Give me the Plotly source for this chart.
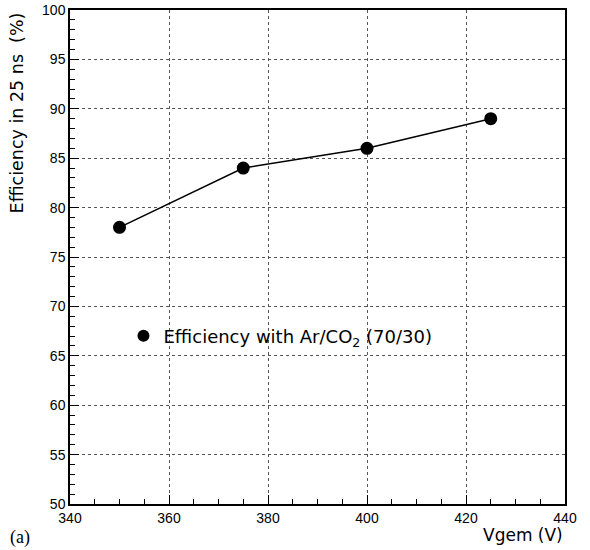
import plotly.graph_objects as go

vgem = [350, 375, 400, 425]
efficiency = [78, 84, 86, 89]
series_name = "Efficiency with Ar/CO<sub>2</sub> (70/30)"

font = "Liberation Sans"

fig = go.Figure()
fig.add_trace(go.Scatter(
    x=vgem, y=efficiency, mode="lines+markers",
    line=dict(color="black", width=1.5),
    marker=dict(color="black", size=13),
    showlegend=False,
))
fig.add_trace(go.Scatter(
    x=[None], y=[None], mode="markers", name=series_name,
    marker=dict(color="black", size=12),
))

axis_common = dict(
    showline=True, linecolor="black", linewidth=1.5, mirror=True,
    showgrid=True, gridcolor="#555555", griddash="dot", gridwidth=1,
    ticks="inside", ticklen=9, tickcolor="black", tickwidth=1.3,
    tickfont=dict(family=font, size=14, color="black"),
    zeroline=False, automargin=False,
)

fig.update_xaxes(
    range=[340, 440], dtick=20, tick0=340,
    minor=dict(dtick=5, ticks="inside", ticklen=5, tickcolor="black", showgrid=False),
    **axis_common,
)
fig.update_yaxes(
    range=[50, 100], dtick=5, tick0=50,
    minor=dict(dtick=1, ticks="inside", ticklen=5, tickcolor="black", showgrid=False),
    **axis_common,
)

fig.update_layout(
    width=590, height=550,
    margin=dict(l=70, r=25, t=10, b=46),
    plot_bgcolor="white", paper_bgcolor="white",
    legend=dict(
        x=0.108, y=0.34, xanchor="left", yanchor="middle",
        bgcolor="rgba(0,0,0,0)", borderwidth=0,
        font=dict(family="DejaVu Sans", size=18, color="black"),
    ),
    annotations=[
        dict(
            text="(a)", xref="paper", yref="paper", x=-0.125, y=-0.067,
            xanchor="left", yanchor="middle", showarrow=False,
            font=dict(family="Liberation Serif", size=18, color="black"),
        ),
        dict(
            text="Vgem (V)", xref="paper", yref="paper", x=1.0, y=-0.063,
            xanchor="right", yanchor="middle", showarrow=False,
            font=dict(family="DejaVu Sans", size=17, color="black"),
        ),
        dict(
            text="Efficiency in 25 ns  (%)", xref="paper", yref="paper",
            x=-0.083, y=1.0, xanchor="right", yanchor="top", textangle=-90,
            showarrow=False,
            font=dict(family="DejaVu Sans", size=17.5, color="black"),
        ),
    ],
)

fig.write_html("out.html")
